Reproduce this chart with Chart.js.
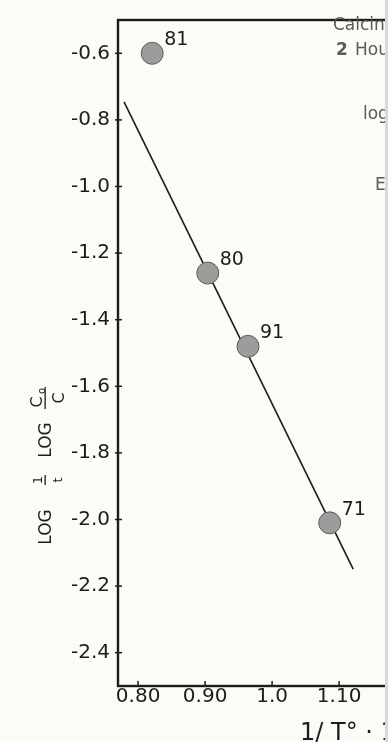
<!DOCTYPE html>
<html>
<head>
<meta charset="utf-8">
<script src="https://cdn.jsdelivr.net/npm/chart.js@4"></script>
<style>
  html, body { margin: 0; padding: 0; background: #fcfbf6; }
  #wrap { width: 385px; height: 742px; overflow: hidden; border-right: 3px solid #d9d9d3; }
  canvas { display: block; }
</style>
</head>
<body>
<div id="wrap"><canvas id="arrhenius" width="520" height="742"></canvas></div>
<script>
// muestras (numero de muestra, 1/T x 10^3, log 1/t log C0/C)
const sampleIds = ['81', '80', '91', '71'];
const invTemp = [0.821, 0.904, 0.964, 1.086];
const logRate = [-0.60, -1.26, -1.48, -2.01];

// recta ajustada
const fitX = [0.779, 1.121];
const fitY = [-0.746, -2.149];

const xTickVals = [0.80, 0.90, 1.0, 1.10, 1.20, 1.30];
const xTickLabels = ['0.80', '0.90', '1.0', '1.10', '1.20', '1.30'];
const yTickVals = [-0.6, -0.8, -1.0, -1.2, -1.4, -1.6, -1.8, -2.0, -2.2, -2.4];
const yTickLabels = ['-0.6', '-0.8', '-1.0', '-1.2', '-1.4', '-1.6', '-1.8', '-2.0', '-2.2', '-2.4'];

const ink = '#1c1c1c';
const FONT = '"DejaVu Sans", "Liberation Sans", sans-serif';

// marco, marcas de los ejes, etiquetas y textos
const decor = {
    id: 'decor',
    afterDatasetsDraw(chart) {
        const { ctx, chartArea: a, scales } = chart;
        ctx.save();
        ctx.strokeStyle = ink;
        ctx.lineWidth = 2.4;
        ctx.strokeRect(a.left, a.top, a.right - a.left, a.bottom - a.top);

        ctx.lineWidth = 1.5;
        scales.y.ticks.forEach(t => {
            const y = scales.y.getPixelForValue(t.value);
            ctx.beginPath();
            ctx.moveTo(a.left - 3, y);
            ctx.lineTo(a.left + 4, y);
            ctx.stroke();
        });
        scales.x.ticks.forEach(t => {
            const x = scales.x.getPixelForValue(t.value);
            ctx.beginPath();
            ctx.moveTo(x, a.bottom);
            ctx.lineTo(x, a.bottom - 5);
            ctx.stroke();
        });

        // numeros de muestra
        const meta = chart.getDatasetMeta(1);
        ctx.fillStyle = ink;
        ctx.font = '19px ' + FONT;
        ctx.textAlign = 'left';
        ctx.textBaseline = 'middle';
        meta.data.forEach((p, i) => {
            ctx.fillText(sampleIds[i], p.x + 12, p.y - 13);
        });

        // titulo eje y
        ctx.save();
        ctx.translate(51, 465);
        ctx.rotate(-Math.PI / 2);
        ctx.textBaseline = 'alphabetic';
        ctx.font = '17px ' + FONT;
        ctx.textAlign = 'center';
        ctx.fillText('LOG', -62, 0);
        ctx.fillText('LOG', 25, 0);
        ctx.font = '13px ' + FONT;
        ctx.fillText('1', -15, -9);
        ctx.fillText('t', -15, 11);
        ctx.fillRect(-20, -6.5, 10, 1.3);
        ctx.font = '16px ' + FONT;
        ctx.fillText('C', 63, -9);
        ctx.fillText('C', 67, 13);
        ctx.font = '10px ' + FONT;
        ctx.fillText('o', 74, -6);
        ctx.fillRect(56, -6.5, 22, 1.3);
        ctx.restore();

        // titulo eje x
        ctx.font = '24px ' + FONT;
        ctx.textAlign = 'left';
        ctx.textBaseline = 'alphabetic';
        ctx.fillText('1/ T° · 10³', 300, 740);

        // leyenda de la derecha
        ctx.fillStyle = '#5a5a5a';
        ctx.font = '17px ' + FONT;
        ctx.fillText('Calcined', 333, 30);
        ctx.font = 'bold 17px ' + FONT;
        ctx.fillText('2', 336, 55);
        ctx.font = '17px ' + FONT;
        ctx.fillText('Hours', 355, 55);
        ctx.fillText('log k', 363, 119);
        ctx.fillText('E =', 375, 190);
        ctx.restore();
    }
};

new Chart(document.getElementById('arrhenius').getContext('2d'), {
    type: 'scatter',
    data: {
        datasets: [{
            type: 'line',
            data: fitX.map((x, i) => ({ x: x, y: fitY[i] })),
            borderColor: ink,
            borderWidth: 1.6,
            pointRadius: 0,
            fill: false,
            order: 2
        }, {
            data: invTemp.map((x, i) => ({ x: x, y: logRate[i] })),
            backgroundColor: '#9c9c9a',
            borderColor: '#5c5c5c',
            borderWidth: 1,
            pointRadius: 11,
            order: 1
        }]
    },
    options: {
        responsive: false,
        animation: false,
        devicePixelRatio: 1,
        layout: { padding: { top: 16, right: 13.4, left: 0, bottom: 0 } },
        plugins: { legend: { display: false }, tooltip: { enabled: false } },
        scales: {
            x: {
                type: 'linear',
                min: 0.77,
                max: 1.35,
                afterBuildTicks: s => { s.ticks = xTickVals.map(v => ({ value: v })); },
                afterFit: s => { s.height = 56; },
                grid: { display: false, drawTicks: false },
                border: { display: false },
                ticks: {
                    color: ink,
                    padding: -1,
                    maxRotation: 0,
                    font: { family: FONT, size: 20 },
                    callback: (v, i) => xTickLabels[i]
                }
            },
            y: {
                type: 'linear',
                min: -2.5,
                max: -0.5,
                afterBuildTicks: s => { s.ticks = yTickVals.map(v => ({ value: v })); },
                afterFit: s => { s.width = 118; },
                grid: { display: false, drawTicks: false },
                border: { display: false },
                ticks: {
                    color: ink,
                    padding: 8,
                    font: { family: FONT, size: 20 },
                    callback: (v, i) => yTickLabels[i]
                }
            }
        }
    },
    plugins: [decor]
});
</script>
</body>
</html>
